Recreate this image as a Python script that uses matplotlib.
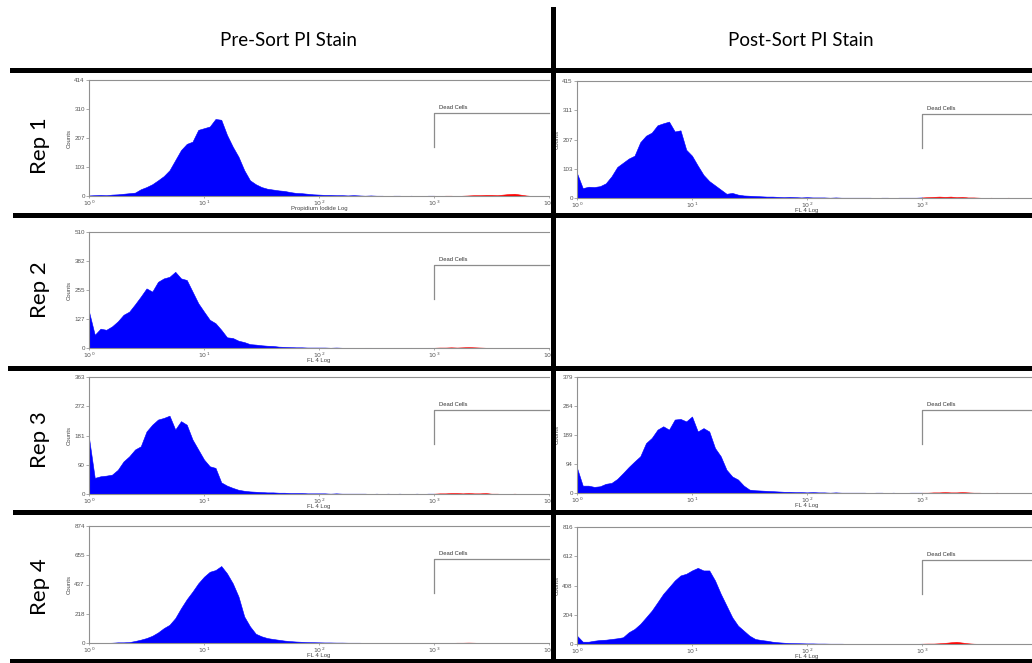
import numpy as np
import matplotlib.pyplot as plt
from matplotlib.patches import Rectangle
from matplotlib.ticker import NullLocator

W, H = 1032, 663

# log10 channel grid: one point every 0.05 decade, 10^0 .. 10^4
decades = np.round(np.arange(81) * 0.05, 2)

# counts, 10 points per line + the 10^4 end point
rep1_pre = [2, 3, 4, 3, 5, 6, 8, 10, 12, 24,
            32, 42, 56, 71, 92, 128, 164, 186, 194, 236,
            242, 248, 275, 272, 218, 176, 140, 92, 56, 42,
            32, 26, 23, 20, 18, 14, 11, 10, 8, 6,
            5, 4, 4, 3, 3, 2, 3, 2, 1, 2,
            1, 1, 0, 1, 1, 0, 1, 0, 0, 1,
            1, 0, 1, 1, 0, 1, 2, 3, 3, 4,
            4, 3, 5, 7, 8, 5, 2, 0, 0, 0,
            0]
rep1_post = [88, 35, 40, 39, 42, 52, 77, 110, 125, 140,
             150, 198, 221, 232, 258, 265, 271, 236, 240, 171,
             150, 115, 82, 60, 45, 30, 15, 18, 12, 9,
             8, 7, 6, 5, 5, 4, 3, 4, 3, 2,
             3, 2, 2, 2, 1, 2, 1, 1, 1, 1,
             1, 1, 0, 1, 1, 0, 1, 1, 1, 1,
             2, 3, 4, 5, 4, 5, 3, 4, 2, 2,
             1, 0, 1, 0, 0, 1, 0, 0, 0, 0,
             0]
rep2_pre = [160, 58, 85, 80, 95, 117, 146, 160, 192, 226,
            262, 248, 291, 306, 313, 335, 306, 299, 248, 197,
            160, 124, 109, 80, 47, 44, 32, 26, 17, 15,
            12, 10, 9, 6, 5, 4, 3, 3, 2, 2,
            2, 2, 1, 2, 1, 1, 1, 0, 1, 1,
            0, 1, 0, 1, 0, 0, 1, 0, 0, 1,
            1, 2, 2, 3, 2, 3, 4, 3, 2, 1,
            1, 0, 0, 1, 0, 0, 0, 0, 0, 0,
            0]
rep3_pre = [174, 50, 55, 57, 60, 75, 101, 117, 138, 148,
            194, 215, 231, 236, 243, 200, 226, 215, 169, 138,
            107, 86, 81, 36, 26, 19, 13, 10, 8, 7,
            6, 5, 5, 4, 4, 3, 3, 3, 2, 2,
            2, 2, 1, 2, 1, 1, 1, 1, 1, 0,
            1, 0, 1, 0, 1, 0, 0, 1, 0, 1,
            1, 2, 2, 3, 3, 2, 3, 2, 2, 3,
            1, 1, 0, 0, 1, 0, 0, 0, 0, 0,
            0]
rep3_post = [82, 24, 24, 20, 22, 30, 33, 46, 65, 85,
             103, 120, 163, 180, 207, 218, 207, 240, 242, 234,
             250, 201, 212, 201, 147, 120, 76, 54, 44, 24,
             11, 9, 8, 7, 6, 5, 4, 4, 3, 3,
             2, 3, 2, 2, 1, 2, 1, 1, 1, 1,
             1, 0, 1, 1, 0, 1, 0, 0, 1, 1,
             1, 1, 2, 2, 3, 2, 2, 3, 2, 1,
             1, 0, 0, 1, 0, 0, 0, 0, 0, 0,
             0]
rep4_pre = [1, 1, 0, 1, 2, 5, 5, 7, 15, 25,
            37, 54, 79, 111, 136, 186, 260, 327, 384, 446,
            495, 532, 545, 575, 520, 446, 347, 198, 124, 69,
            50, 37, 30, 24, 18, 14, 11, 9, 7, 6,
            5, 4, 4, 3, 3, 2, 2, 2, 1, 1,
            1, 1, 0, 1, 0, 1, 0, 0, 1, 0,
            1, 0, 1, 1, 2, 2, 3, 2, 1, 1,
            0, 1, 0, 0, 0, 0, 0, 0, 0, 0,
            0]
rep4_post = [58, 16, 16, 23, 28, 30, 35, 40, 47, 82,
             105, 140, 186, 233, 291, 350, 396, 443, 478, 490,
             513, 531, 513, 513, 443, 350, 268, 186, 128, 93,
             58, 35, 28, 23, 16, 12, 9, 7, 6, 5,
             4, 4, 3, 3, 2, 2, 2, 1, 1, 1,
             1, 1, 0, 1, 1, 0, 1, 1, 1, 1,
             2, 3, 3, 5, 8, 12, 15, 10, 5, 2,
             1, 1, 0, 0, 0, 0, 0, 0, 0, 0,
             0]

pre_hists = [rep1_pre, rep2_pre, rep3_pre, rep4_pre]
post_hists = [rep1_post, None, rep3_post, rep4_post]
pre_yticks = [[0, 103, 207, 310, 414], [0, 127, 255, 382, 510],
              [0, 90, 181, 272, 363], [0, 218, 437, 655, 874]]
post_yticks = [[0, 103, 207, 311, 415], None,
               [0, 94, 189, 284, 379], [0, 204, 408, 612, 816]]
pre_xlabels = ['Propidium Iodide Log', 'FL 4 Log', 'FL 4 Log', 'FL 4 Log']
row_labels = ['Rep 1', 'Rep 2', 'Rep 3', 'Rep 4']
col_labels = ['Pre-Sort PI Stain', 'Post-Sort PI Stain']
gate_name = 'Dead Cells'
gate_start = 3.0  # log10 position where the dead cell gate begins

# panel boxes in pixels (top, bottom)
pre_rows = [(80, 196), (232, 348), (377, 494), (526, 643)]
post_rows = [(81, 198), None, (377, 493), (527, 644)]

fig = plt.figure(figsize=(W / 100, H / 100), dpi=100)
small = ['Liberation Sans', 'DejaVu Sans']


def draw_hist(left, top, bottom, counts, yticks, xlabel):
    ax = fig.add_axes([left / W, 1 - bottom / H, 460 / W, (bottom - top) / H])
    x = 10 ** decades
    y = np.array(counts)
    live = decades <= gate_start
    dead = decades >= gate_start
    ax.fill_between(x[live], y[live], color='#0000ff', lw=0.4)
    ax.fill_between(x[dead], y[dead], color='#ff0000', lw=0.4)
    ax.set_xscale('log')
    ax.set_xlim(1, 1e4)
    ax.set_ylim(0, yticks[-1])
    ax.set_yticks(yticks)
    ax.set_yticklabels([str(t) for t in yticks], family=small)
    ax.set_xticks([1, 10, 100, 1000, 10000])
    ax.set_xticklabels([r'$10^0$', r'$10^1$', r'$10^2$', r'$10^3$', r'$10^4$'])
    ax.xaxis.set_minor_locator(NullLocator())
    ax.tick_params(labelsize=4.5, colors='#888888', labelcolor='#555555',
                   length=2, width=0.5, pad=1)
    ax.tick_params(axis='x', pad=0.3, length=1.5)
    for side in ['top', 'left', 'bottom']:
        ax.spines[side].set_color('#909090')
        ax.spines[side].set_linewidth(0.8)
    ax.spines['right'].set_visible(False)
    ax.set_ylabel('Counts', fontsize=4.3, color='#444444', labelpad=2, family=small)
    ax.set_xlabel(xlabel, fontsize=4.3, color='#444444', labelpad=-1, family=small)

    # dead cell gate bracket
    tr = ax.get_xaxis_transform()
    g = 10 ** gate_start
    ax.plot([g, g, 1e4], [0.425, 0.718, 0.718], color='#8c8c8c', lw=0.9,
            transform=tr, clip_on=False)
    ax.text(g * 1.11, 0.74, gate_name, transform=tr, fontsize=4.2,
            color='#333333', family=small, va='bottom')


for i in range(4):
    top, bottom = pre_rows[i]
    draw_hist(89, top, bottom, pre_hists[i], pre_yticks[i], pre_xlabels[i])
    if post_hists[i] is not None:
        top, bottom = post_rows[i]
        draw_hist(577, top, bottom, post_hists[i], post_yticks[i], 'FL 4 Log')

# table grid lines
def bar(x0, y0, x1, y1):
    fig.add_artist(Rectangle((x0 / W, 1 - y1 / H), (x1 - x0) / W, (y1 - y0) / H,
                             transform=fig.transFigure, color='black', lw=0, zorder=10))

bar(551, 7, 556, H)
bar(10, 67.5, W, 72.5)
bar(13, 213, W, 218)
bar(8, 365.5, W, 370.5)
bar(13, 509.5, W, 514.5)
bar(10, 659, W, 664)

head = ['Lato', 'DejaVu Sans']
fig.text(289 / W, 1 - 41 / H, col_labels[0], fontsize=13.5, family=head,
         ha='center', va='center')
fig.text(801 / W, 1 - 40 / H, col_labels[1], fontsize=13.5, family=head,
         ha='center', va='center')
row_mid = [146, 290, 440, 587]
for lab, ym in zip(row_labels, row_mid):
    fig.text(40 / W, 1 - ym / H, lab, fontsize=16, family=head, rotation=90,
             ha='center', va='center')

plt.savefig('out.png', dpi=100)
